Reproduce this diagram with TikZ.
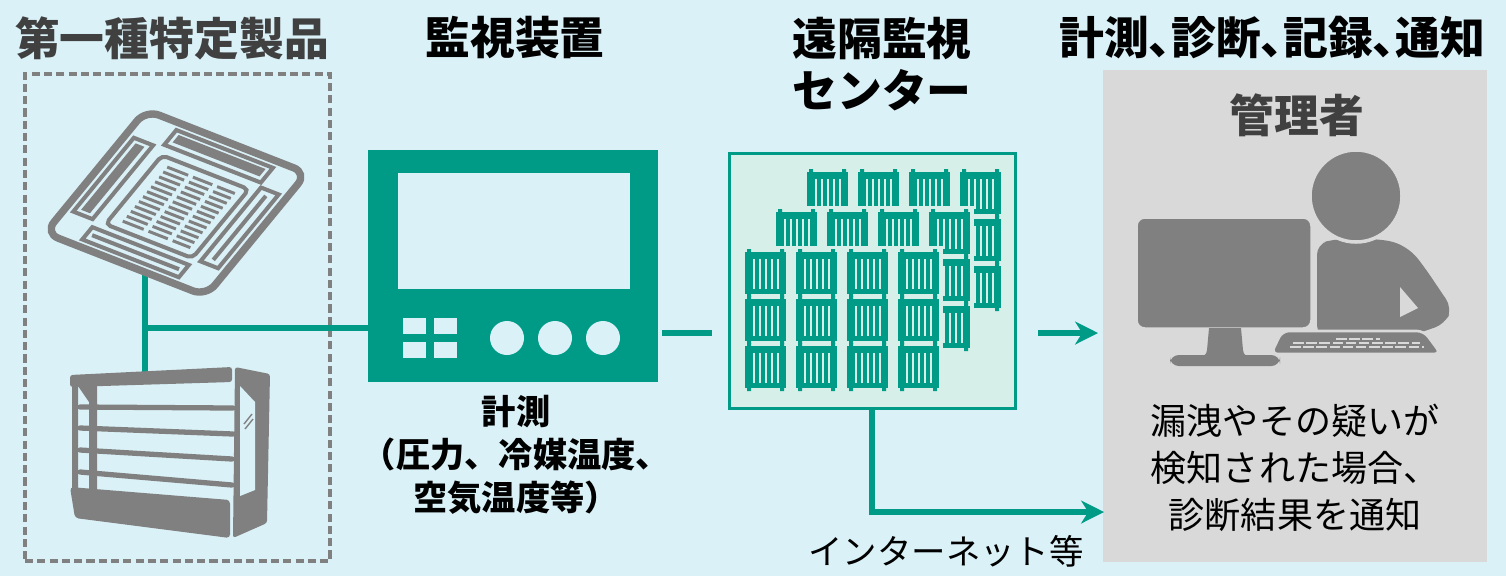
\documentclass[tikz,border=0pt]{standalone}
\usepackage{fontspec}
\setmainfont{Noto Sans CJK JP}
\newfontfamily\paltfont{Noto Sans CJK JP}[RawFeature=+palt]
\usetikzlibrary{arrows.meta}

\definecolor{skyback}{RGB}{218,241,248}
\definecolor{linkgreen}{RGB}{0,155,135}
\definecolor{mintfill}{RGB}{214,240,233}
\definecolor{iconfill}{RGB}{128,128,128}
\definecolor{panelgray}{RGB}{217,217,217}
\definecolor{headgray}{RGB}{64,64,64}

\newcommand{\unitpx}{0.02cm}
\newcommand{\rackunit}[2]{%
  \filldraw[fill=linkgreen,draw=mintfill,line width=1pt] (#1,#2+2) rectangle ++(43,44);
  \fill[linkgreen] (#1+3,#2) rectangle ++(4,3) (#1+36,#2) rectangle ++(4,3);
  \fill[linkgreen] (#1+3,#2+45) rectangle ++(4,3) (#1+36,#2+45) rectangle ++(4,3);
  \foreach \k in {10,16,22,28,34}
    \draw[mintfill,line width=1.2pt] (#1+\k,#2+10) -- ++(0,30);
}

\begin{document}
\begin{tikzpicture}[x=0.02cm,y=-0.02cm,>={Stealth[length=13pt,width=13pt,inset=4pt]},
  every node/.style={inner sep=0pt,align=center},
  wire/.style={draw=linkgreen,line width=3.4pt},
  flow/.style={wire,->},
  head/.style={font=\bfseries\fontsize{25.5}{29.5}\selectfont},
  sub/.style={font=\bfseries\fontsize{19.5}{24.4}\selectfont},
  note/.style={font=\fontsize{19.6}{24}\selectfont}]
\fill[skyback] (0,0) rectangle (1506,576);
\useasboundingbox (0,0) rectangle (1506,576);

\node[head,text=headgray] (prodhead) at (172,38) {第一種特定製品};
\node[head] (meterhead) at (515,38) {監視装置};
\node[head] (remotehead) at (882,64) {遠隔監視\\センター};
\node[head] (taskhead) at (1272,38) {\paltfont 計測、診断、記録、通知};

\node[draw=iconfill,line width=2.3pt,dash pattern=on 4.6pt off 2.4pt,
  minimum width=305*\unitpx,minimum height=487*\unitpx] (products) at (177.5,317.5) {};

\coordinate (acbase) at (145,260);
\coordinate (casetop) at (145,372);
\coordinate (tee) at (145,328);
\draw[wire] (acbase) -- (casetop);

% ceiling cassette unit
\begin{scope}[shift={(45,233)},x={(3.22cm,-1.26cm)},y={(2.02cm,2.46cm)},color=iconfill,line width=2.3pt]
\filldraw[fill=skyback,line width=4.2pt,rounded corners=8pt] (0,0) -- (1,0) -- (1,1) -- (0,1) -- cycle;
\draw (0.22,0.83) -- (0.82,0.83) -- (0.82,0.95) -- (0.22,0.95) -- cycle;
\fill (0.25,0.865) -- (0.79,0.865) -- (0.79,0.925) -- (0.25,0.925) -- cycle;
\draw (0.05,0.2) -- (0.17,0.2) -- (0.17,0.8) -- (0.05,0.8) -- cycle;
\fill (0.08,0.23) -- (0.135,0.23) -- (0.135,0.77) -- (0.08,0.77) -- cycle;
\draw (0.2,0.05) -- (0.8,0.05) -- (0.8,0.15) -- (0.2,0.15) -- cycle;
\draw (0.23,0.1) -- (0.77,0.1);
\draw (0.84,0.2) -- (0.95,0.2) -- (0.95,0.8) -- (0.84,0.8) -- cycle;
\draw (0.895,0.24) -- (0.895,0.76);
\draw[rounded corners=3pt] (0.25,0.2) -- (0.79,0.2) -- (0.79,0.76) -- (0.25,0.76) -- cycle;
\foreach \g in {0.26,0.3,...,0.71}
  \draw[line width=1.7pt] (0.32,\g) -- (0.45,\g) (0.48,\g) -- (0.6,\g) (0.63,\g) -- (0.74,\g);
\end{scope}

% open showcase
\fill[iconfill,rounded corners=1.5pt] (70,375) -- (232,367) -- (232,382) -- (70,387) -- cycle;
\fill[iconfill] (72,386) rectangle (78,490) (89,386) rectangle (97,492);
\fill[iconfill] (78,386) -- (89,386) -- (89,402) -- cycle;
\draw[iconfill,line width=3pt,line cap=round] (80,407) -- (233,408) (80,428) -- (233,434)
  (80,450) -- (232,459) (80,472) -- (232,485);
\fill[iconfill,rounded corners=2pt] (70,487) -- (230,500) -- (230,538) -- (75,518) -- cycle;
\fill[iconfill,rounded corners=1.5pt] (235,367) -- (270,374) -- (267,523) -- (233,538) -- cycle;
\fill[skyback] (240,386) -- (255,402) -- (255,490) -- (240,496) -- cycle;
\draw[iconfill,line width=0.8pt] (244,424) -- (252,414) (245,429) -- (253,419);

% monitoring unit
\node[fill=linkgreen,minimum width=290*\unitpx,minimum height=232*\unitpx] (meter) at (513,266) {};
\fill[skyback] (398,173) rectangle (630,289);
\foreach \x/\y in {403/318,434/318,403/342,434/342}
  \fill[skyback] (\x,\y) rectangle ++(23,16);
\foreach \x in {507,555,603}
  \fill[skyback] (\x,338) circle[radius=17*\unitpx];
\draw[wire] (tee) -- (tee -| meter.west);
\node[sub] (meterlabel) at (516,455) {計測\\（圧力、冷媒温度、\\空気温度等）};

% remote monitoring center
\node[draw=linkgreen,line width=1.7pt,fill=mintfill,minimum width=286*\unitpx,
  minimum height=255*\unitpx] (remote) at (872,280.5) {};
\foreach \dx/\dy in {62/80,31/40,0/0} {
  \fill[mintfill] (741+\dx,246-\dy) rectangle ++(202,147);
  \foreach \col in {0,...,3}
    \foreach \row in {0,1,2}
      \rackunit{744+\dx+51*\col}{249-\dy+47*\row};
}
\coordinate (meterout) at (662,333);
\coordinate (remotein) at (712,333);
\draw[wire] (meterout) -- (remotein);

% administrator
\node[fill=panelgray,minimum width=384*\unitpx,minimum height=492*\unitpx] (admin) at (1295,316) {};
\node[head,text=headgray] (adminhead) at (1297,115) {管理者};
\fill[iconfill,rounded corners=6pt] (1317,336) -- (1317,244) -- (1335,239) -- (1378,239)
  .. controls (1405,244) and (1415,255) .. (1425,268) -- (1452,308) -- (1445,324) -- (1410,336) -- cycle;
\fill[panelgray] (1400,287) -- (1418,308) -- (1400,317) -- cycle;
\filldraw[fill=iconfill,draw=panelgray,line width=2pt] (1356,196) circle[radius=46*\unitpx];
\filldraw[fill=iconfill,draw=panelgray,line width=2pt,rounded corners=5pt] (1136,217) rectangle (1312,329);
\fill[iconfill] (1209,328) -- (1241,328) -- (1243,350) .. controls (1244,355) .. (1252,357)
  -- (1198,357) .. controls (1206,355) .. (1207,350) -- cycle;
\fill[iconfill,rounded corners=5pt] (1170,355) rectangle (1280,366);
\filldraw[fill=iconfill,draw=panelgray,line width=1.5pt,rounded corners=4pt]
  (1282,331) -- (1424,331) -- (1441,354) -- (1271,354) -- cycle;
\draw[panelgray,line width=1.2pt,dash pattern=on 6pt off 1.5pt] (1336,339) -- (1380,339)
  (1293,343) -- (1420,343) (1290,347) -- (1424,347);
\node[font=\fontsize{20.5}{26.6}\selectfont] (notice) at (1295,468) {漏洩やその疑いが\\検知された場合、\\診断結果を通知};

\coordinate (feedout) at (1038,333);
\coordinate (feedin) at (1098,333);
\draw[flow] (feedout) -- (feedin);
\coordinate (netin) at (1104,512);
\draw[flow] (remote.south) |- (netin);
\node[note] (netlabel) at (946,551) {インターネット等};
\end{tikzpicture}
\end{document}
